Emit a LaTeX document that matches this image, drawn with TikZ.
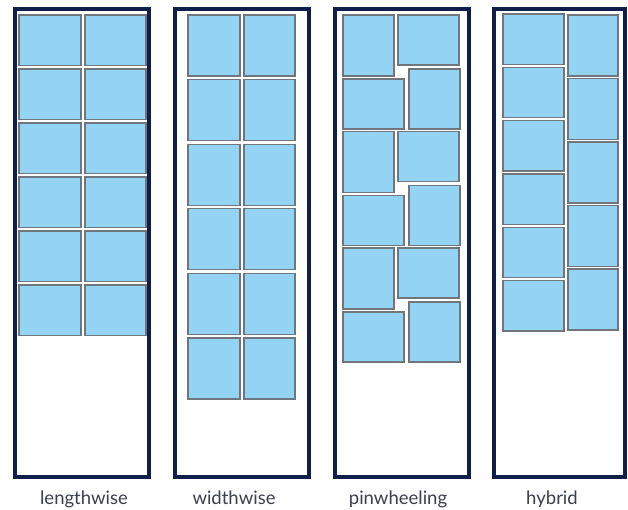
\documentclass[tikz,border=0pt]{standalone}
\usepackage{fontspec}
\setmainfont{Lato}
\definecolor{traynavy}{HTML}{101E4A}
\definecolor{sheetblue}{HTML}{93D4F5}
\definecolor{sheetgrey}{HTML}{70767C}
\definecolor{captiongrey}{HTML}{3B3F4C}
\begin{document}
\begin{tikzpicture}[x=1pt,y=-1pt]
  \tikzset{
    tray/.style={draw=traynavy,line width=4pt,inner sep=0pt,outer sep=0pt,anchor=north west,minimum width=134pt,minimum height=468pt},
    wide/.style={draw=sheetgrey,fill=sheetblue,line width=1.3pt,inner sep=0pt,outer sep=0pt,anchor=north west,minimum width=61pt,minimum height=50.5pt},
    tall/.style={wide,minimum width=51pt,minimum height=61pt},
    caption/.style={anchor=base,text=captiongrey,font=\fontsize{18.5}{22}\selectfont}
  }
  \useasboundingbox (0,0) rectangle (628,510);
  % trays
  \node[tray] (tray-len) at (15,9) {};
  \node[tray] (tray-wid) at (175,9) {};
  \node[tray] (tray-pin) at (335,9) {};
  \node[tray,minimum width=131pt] (tray-hyb) at (494,9) {};
  % lengthwise
  \foreach \r in {0,...,5} {
    \node[wide,minimum width=62pt] (len-a\r) at (19,15+54*\r) {};
    \node[wide] (len-b\r) at (85,15+54*\r) {};
  }
  % widthwise
  \foreach \r in {0,...,5} {
    \node[tall,minimum width=52pt] (wid-a\r) at (188,15+64.6*\r) {};
    \node[tall] (wid-b\r) at (244,15+64.6*\r) {};
  }
  % pinwheeling
  \foreach \r in {0,1,2} {
    \pgfmathsetmacro\rowtop{15+116.5*\r}
    \node[tall] (pin-a\r) at (343,\rowtop) {};
    \node[wide,minimum height=50pt] (pin-b\r) at (398,\rowtop) {};
    \node[wide,minimum height=50pt] (pin-c\r) at (343,\rowtop+64) {};
    \node[tall,minimum height=60pt] (pin-d\r) at (409,\rowtop+54) {};
  }
  % hybrid
  \foreach \r in {0,...,5}
    \node[wide] (hyb-a\r) at (503,14+53.3*\r) {};
  \foreach \r in {0,...,4}
    \node[tall,minimum width=50pt] (hyb-b\r) at (568,15+63.5*\r) {};
  % captions
  \node[caption] (cap-len) at (84,504) {lengthwise};
  \node[caption] (cap-wid) at (234,504) {widthwise};
  \node[caption] (cap-pin) at (398,504) {pinwheeling};
  \node[caption] (cap-hyb) at (552,504) {hybrid};
\end{tikzpicture}
\end{document}
